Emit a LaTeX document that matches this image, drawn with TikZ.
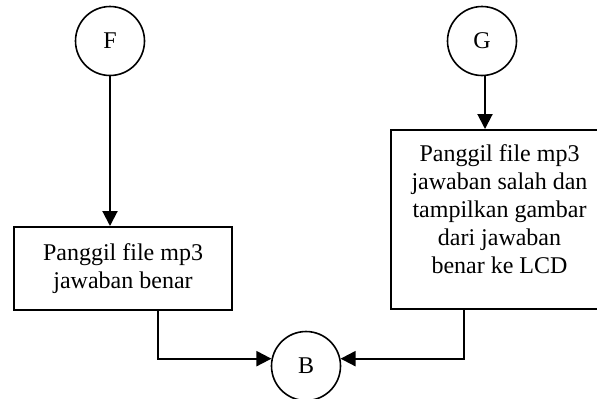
\documentclass[tikz,border=0pt]{standalone}
\usepackage{fontspec}
\setmainfont{Liberation Serif}
\usepackage{tikz}
\usetikzlibrary{calc, positioning, arrows.meta}

\newcommand{\padR}{\rule{16.5pt}{0pt}}

\begin{document}
\begin{tikzpicture}[
        x=0.5pt, y=-0.5pt,
        connector/.style={draw, circle, line width=0.8pt, minimum size=34.5pt, inner sep=0pt, font=\fontsize{12pt}{14pt}\selectfont},
        process/.style={draw, rectangle, line width=1pt, minimum width=109pt, align=center, inner sep=0pt, font=\fontsize{12pt}{14pt}\selectfont},
        arrow/.style={-{Triangle[length=7.5pt, width=7.5pt]}, line width=1pt}
    ]
    \useasboundingbox (0, 0) rectangle (597, 398);

    % ================= Connectors =================
    \node[connector] (F) at (110, 41) {F};
    \node[connector] (G) at (482, 41) {G};
    \node[connector] (B) at (306, 366) {B};

    % ================= Process boxes =================
    \node[process, minimum height=41.5pt] (benar) at (123, 268.5) {Panggil file mp3\\jawaban benar};
    % right box runs past the page edge
    \node[process, minimum width=125pt, minimum height=89.5pt] (salah) at (516, 219.5) {Panggil file mp3\padR\\jawaban salah dan\padR\\tampilkan gambar\padR\\dari jawaban\padR\\benar ke LCD\padR\\[-3.75pt]\mbox{}};

    % ================= Arrows =================
    \draw[arrow] (F.south) -- (F.south |- benar.north);
    \draw[arrow] ([xshift=1.5pt]G.south) -- ([xshift=1.5pt]G.south |- salah.north);
    \draw[arrow] ([xshift=17.5pt]benar.south) |- (B.168);
    \draw[arrow] ([xshift=-26pt]salah.south) |- (B.12);

\end{tikzpicture}
\end{document}
